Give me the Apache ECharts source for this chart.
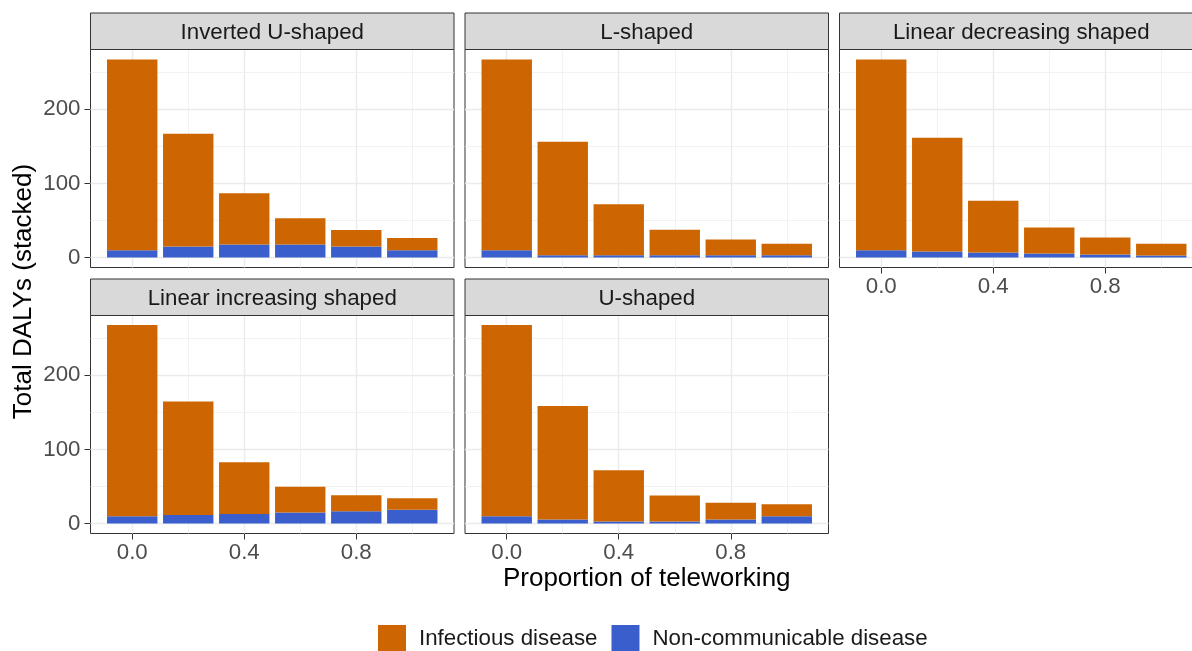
<!DOCTYPE html>
<html>
<head>
<meta charset="utf-8">
<title>Total DALYs by proportion of teleworking</title>
<script src="https://cdn.jsdelivr.net/npm/echarts@6/dist/echarts.min.js"></script>
<style>
  html, body { margin: 0; padding: 0; background: #ffffff; }
  #chart { width: 1192px; height: 651px; }
</style>
</head>
<body>
<div id="chart"></div>
<script>
// ---- data ----
const panels = ['Inverted U-shaped', 'L-shaped', 'Linear decreasing shaped', 'Linear increasing shaped', 'U-shaped'];
const proportions = [0, 0.2, 0.4, 0.6, 0.8, 1.0];

// DALYs from infectious disease (upper segment of each bar)
const infInvertedU   = [257, 152, 69, 35.5, 22, 16.5];
const infLShaped     = [257, 153, 69, 34.5, 21.5, 15.5];
const infLinearDec   = [257, 153.5, 70, 35, 23, 15.8];
const infLinearInc   = [257.5, 153, 69.5, 34.5, 21.5, 15.5];
const infUShaped     = [257.5, 153, 69.3, 35, 22.5, 16];

// DALYs from non-communicable disease (lower segment of each bar)
const ncdInvertedU   = [10, 15, 17.5, 17.5, 15, 10];
const ncdLShaped     = [10, 3, 3, 3, 3, 3];
const ncdLinearDec   = [10, 8, 6.7, 5.4, 4, 2.7];
const ncdLinearInc   = [10, 11.5, 13, 15, 16.5, 18.5];
const ncdUShaped     = [10, 5.5, 2.7, 2.7, 5.5, 10];

const seriesNames = ['Infectious disease', 'Non-communicable disease'];

// axis ticks
const xTickValues = [0, 0.4, 0.8];
const xTickLabels = ['0.0', '0.4', '0.8'];
const xMinorValues = [0.2, 0.6, 1.0];
const yTickValues = [0, 100, 200];
const yTickLabels = ['0', '100', '200'];
const yMinorValues = [50, 150, 250];

const infByPanel = [infInvertedU, infLShaped, infLinearDec, infLinearInc, infUShaped];
const ncdByPanel = [ncdInvertedU, ncdLShaped, ncdLinearDec, ncdLinearInc, ncdUShaped];

// ---- layout & style ----
const FONT = '"Liberation Sans", Arial, Helvetica, sans-serif';
const TEXT_SIZE = 22.3;
const TITLE_SIZE = 26;
const ORANGE = '#CD6600';
const BLUE = '#3A5FCD';
const cols = [90.5, 465, 839.5];
const rows = [49.5, 315.5];
const panelW = 363.5, panelH = 218, stripH = 36.5;
const place = [[0, 0], [1, 0], [2, 0], [0, 1], [1, 1]];
const showX = [false, false, true, true, true];
const showY = [true, false, false, true, false];
const xMin = -0.149, xMax = 1.149;
const yMin = -13.4, yMax = 280.4;
const barWidthPx = 0.18 * panelW / (xMax - xMin);

const majorLine = { color: '#EBEBEB', width: 1.4, type: 'solid' };
const minorLine = { color: '#EFEFEF', width: 0.8, type: 'solid' };
const gridLineData = [].concat(
  xTickValues.map(v => ({ xAxis: v, lineStyle: majorLine })),
  xMinorValues.map(v => ({ xAxis: v, lineStyle: minorLine })),
  yTickValues.map(v => ({ yAxis: v, lineStyle: majorLine })),
  yMinorValues.map(v => ({ yAxis: v, lineStyle: minorLine }))
);

function labelFor(values, labels) {
  return v => {
    const k = values.findIndex(t => Math.abs(t - v) < 1e-9);
    return k >= 0 ? labels[k] : '';
  };
}

// rows are [dalys, proportion]; the DALY column comes first so that it is the stacked one
function barRows(values) {
  return proportions.map((p, k) => [values[k], p]);
}

const grids = [], xAxes = [], yAxes = [], series = [], graphics = [];

panels.forEach((title, i) => {
  const [c, r] = place[i];
  const left = cols[c], top = rows[r];

  grids.push({
    left: left, top: top, width: panelW, height: panelH,
    show: true, backgroundColor: '#ffffff', borderColor: '#333333', borderWidth: 1,
    containLabel: false, outerBoundsMode: 'none'
  });

  xAxes.push({
    type: 'value', gridIndex: i, min: xMin, max: xMax,
    splitLine: { show: false },
    axisLine: { show: false, onZero: false },
    axisTick: { show: showX[i], customValues: xTickValues, length: 6, lineStyle: { color: '#333333', width: 1 } },
    axisLabel: {
      show: showX[i], customValues: xTickValues, margin: 8,
      formatter: labelFor(xTickValues, xTickLabels),
      fontSize: TEXT_SIZE, color: '#4D4D4D', fontFamily: FONT
    }
  });

  yAxes.push({
    type: 'value', gridIndex: i, min: yMin, max: yMax,
    splitLine: { show: false },
    axisLine: { show: false, onZero: false },
    axisTick: { show: showY[i], customValues: yTickValues, length: 6, lineStyle: { color: '#333333', width: 1 } },
    axisLabel: {
      show: showY[i], customValues: yTickValues, margin: 10,
      formatter: labelFor(yTickValues, yTickLabels),
      fontSize: TEXT_SIZE, color: '#4D4D4D', fontFamily: FONT
    }
  });

  series.push({
    name: seriesNames[1], type: 'bar', xAxisIndex: i, yAxisIndex: i,
    stack: 'panel' + i, barWidth: barWidthPx,
    dimensions: ['dalys', 'proportion'], encode: { x: 1, y: 0 },
    itemStyle: { color: BLUE },
    data: barRows(ncdByPanel[i]),
    markLine: {
      silent: true, symbol: 'none', z: 1, animation: false,
      label: { show: false }, emphasis: { disabled: true },
      data: gridLineData
    }
  });
  series.push({
    name: seriesNames[0], type: 'bar', xAxisIndex: i, yAxisIndex: i,
    stack: 'panel' + i, barWidth: barWidthPx,
    dimensions: ['dalys', 'proportion'], encode: { x: 1, y: 0 },
    itemStyle: { color: ORANGE },
    data: barRows(infByPanel[i])
  });

  // facet strip
  graphics.push({
    type: 'rect', silent: true, z: 10,
    shape: { x: left, y: top - stripH, width: panelW, height: stripH },
    style: { fill: '#D9D9D9', stroke: '#333333', lineWidth: 1 }
  });
  graphics.push({
    type: 'text', silent: true, z: 11,
    x: left + panelW / 2, y: top - stripH / 2 + 1.2,
    style: { text: title, fontSize: TEXT_SIZE, fontFamily: FONT, fill: '#1A1A1A', align: 'center', verticalAlign: 'middle' }
  });
});

// axis titles
graphics.push({
  type: 'text', silent: true, z: 11,
  x: 24, y: (rows[0] + rows[1] + panelH) / 2, rotation: Math.PI / 2,
  style: { text: 'Total DALYs (stacked)', fontSize: TITLE_SIZE, fontFamily: FONT, fill: '#000000', align: 'center', verticalAlign: 'middle' }
});
graphics.push({
  type: 'text', silent: true, z: 11,
  x: cols[1] + panelW / 2, y: 579,
  style: { text: 'Proportion of teleworking', fontSize: TITLE_SIZE, fontFamily: FONT, fill: '#000000', align: 'center', verticalAlign: 'middle' }
});

const chart = echarts.init(document.getElementById('chart'), null, { renderer: 'canvas' });
chart.setOption({
  animation: false,
  backgroundColor: '#ffffff',
  textStyle: { fontFamily: FONT },
  grid: grids,
  xAxis: xAxes,
  yAxis: yAxes,
  legend: {
    data: seriesNames, selectedMode: false,
    left: 378, top: 625, padding: 0,
    icon: 'rect', itemWidth: 28, itemHeight: 28, itemGap: 14,
    textStyle: { fontSize: TEXT_SIZE, color: '#1A1A1A', fontFamily: FONT, padding: [0, 0, 0, 8] }
  },
  series: series,
  graphic: graphics
});
</script>
</body>
</html>
